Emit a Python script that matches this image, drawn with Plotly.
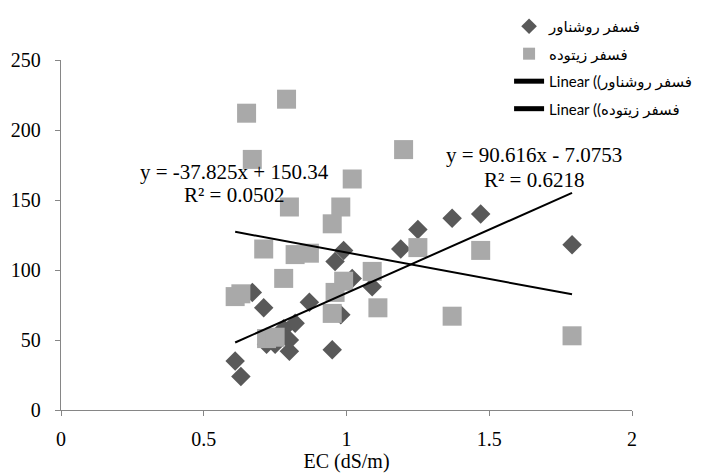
import plotly.graph_objects as go

# ---- data ----
roshnavar_name = "فسفر روشناور"
ziotodeh_name = "فسفر زیتوده"

roshnavar_ec = [0.61, 0.63, 0.67, 0.71, 0.72, 0.75, 0.78, 0.80, 0.80, 0.82, 0.87,
                0.95, 0.96, 0.98, 0.99, 1.02, 1.09, 1.19, 1.25, 1.37, 1.47, 1.79]
roshnavar_p = [35, 24, 84, 73, 47, 47, 58, 42, 50, 62, 77,
               43, 106, 68, 114, 94, 88, 115, 129, 137, 140, 118]

ziotodeh_ec = [0.61, 0.63, 0.65, 0.67, 0.71, 0.72, 0.75, 0.78, 0.79, 0.80, 0.82, 0.87,
               0.95, 0.95, 0.96, 0.98, 0.99, 1.02, 1.09, 1.11, 1.20, 1.25, 1.37, 1.47, 1.79]
ziotodeh_p = [81, 83, 212, 179, 115, 51, 52, 94, 222, 145, 111, 112,
              133, 69, 84, 145, 92, 165, 99, 73, 186, 116, 67, 114, 53]

# trendline coefficients (from the equations on the chart)
roshnavar_slope, roshnavar_intercept, roshnavar_r2 = 90.616, -7.0753, 0.6218
ziotodeh_slope, ziotodeh_intercept, ziotodeh_r2 = -37.825, 150.34, 0.0502

x_ticks = [0, 0.5, 1, 1.5, 2]
y_ticks = [0, 50, 100, 150, 200, 250]

# ---- figure ----
serif = "Liberation Serif, Times New Roman, serif"
sans = "Lato, DejaVu Sans, sans-serif"

def trend(xs, m, b):
    x0, x1 = min(xs), max(xs)
    return [x0, x1], [m * x0 + b, m * x1 + b]

fig = go.Figure()
fig.add_trace(go.Scatter(
    x=roshnavar_ec, y=roshnavar_p, mode="markers", name=roshnavar_name,
    marker=dict(symbol="diamond", size=15, color="#595959", line=dict(width=0)),
    legendgroup="a"))
fig.add_trace(go.Scatter(
    x=ziotodeh_ec, y=ziotodeh_p, mode="markers", name=ziotodeh_name,
    marker=dict(symbol="square", size=19, color="#a9a9a9", line=dict(width=0)),
    legendgroup="b"))
tx, ty = trend(roshnavar_ec, roshnavar_slope, roshnavar_intercept)
fig.add_trace(go.Scatter(
    x=tx, y=ty, mode="lines", name="Linear ((" + roshnavar_name,
    line=dict(color="black", width=2), legendgroup="c"))
tx, ty = trend(ziotodeh_ec, ziotodeh_slope, ziotodeh_intercept)
fig.add_trace(go.Scatter(
    x=tx, y=ty, mode="lines", name="Linear ((" + ziotodeh_name,
    line=dict(color="black", width=2), legendgroup="d"))

axis_common = dict(
    showgrid=False, zeroline=False, showline=True, linecolor="#868686", linewidth=1.3,
    ticks="outside", ticklen=5, tickcolor="#868686", tickwidth=1.3,
    tickfont=dict(family=serif, size=20, color="black"),
    automargin=False,
)

fig.update_xaxes(range=[0, 2], tickvals=x_ticks, ticktext=[str(v) for v in x_ticks],
                 ticklabelstandoff=6,
                 title=dict(text="EC (dS/m)", font=dict(family=serif, size=20, color="black"),
                            standoff=4),
                 **axis_common)
fig.update_yaxes(range=[0, 250], tickvals=y_ticks, ticklabelstandoff=10, **axis_common)

def eq_text(m, b):
    sign = "+" if b >= 0 else "-"
    return f"y = {m:g}x {sign} {abs(b):g}"

ann_font = dict(family=serif, size=21, color="black")
fig.add_annotation(x=0.606, y=170, xref="x", yref="y", showarrow=False,
                   text=eq_text(ziotodeh_slope, ziotodeh_intercept), font=ann_font)
fig.add_annotation(x=0.606, y=153.5, xref="x", yref="y", showarrow=False,
                   text=f"R² = {ziotodeh_r2:.4f}", font=ann_font)
fig.add_annotation(x=1.657, y=182, xref="x", yref="y", showarrow=False,
                   text=eq_text(roshnavar_slope, roshnavar_intercept), font=ann_font)
fig.add_annotation(x=1.657, y=164, xref="x", yref="y", showarrow=False,
                   text=f"R² = {roshnavar_r2:.4f}", font=ann_font)

fig.update_layout(
    width=711, height=473,
    font=dict(family=serif, size=20, color="black"),
    margin=dict(l=61, r=79, t=60, b=63, autoexpand=False),
    paper_bgcolor="white", plot_bgcolor="white",
    showlegend=True,
    legend=dict(xref="container", yref="container", x=0.716, y=0.979,
                xanchor="left", yanchor="top",
                font=dict(family=sans, size=15, color="black"),
                bgcolor="rgba(0,0,0,0)", traceorder="grouped", tracegroupgap=5,
                itemsizing="constant"),
)

fig.write_html("out.html", config={"displayModeBar": False},
               post_script="document.body.style.margin='0';document.body.style.overflow='hidden';")
